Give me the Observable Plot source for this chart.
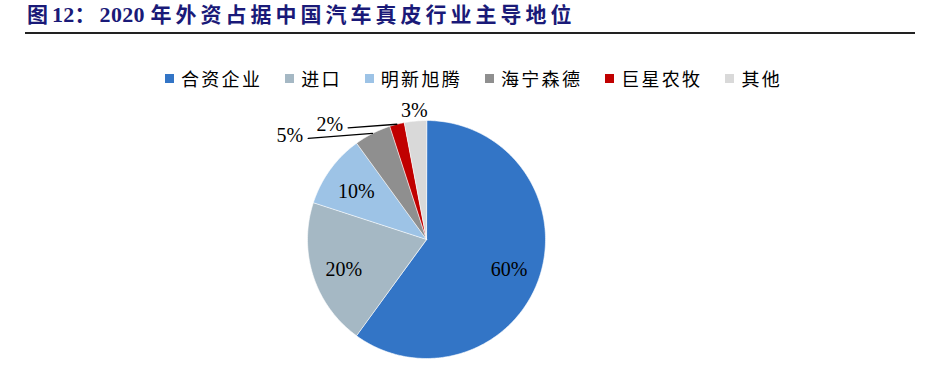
<!DOCTYPE html>
<html>
<head>
<meta charset="utf-8">
<script src="https://cdn.jsdelivr.net/npm/d3@7"></script>
<script src="https://cdn.jsdelivr.net/npm/@observablehq/plot@0.6"></script>
<style>
  html, body { margin: 0; padding: 0; background: #fff; }
  #wrap { position: relative; width: 927px; height: 368px; overflow: hidden; }
  #title { position: absolute; left: 27px; top: 3px; font-family: "Liberation Serif", "Noto Sans CJK SC", serif; font-weight: bold; font-size: 21px; line-height: 24px; letter-spacing: 4px; color: #1a1a78; white-space: nowrap; }
  #title .n { letter-spacing: 0.3px; font-size: 22px; }
  #rule { position: absolute; left: 25px; width: 890px; top: 32px; height: 0; border-top: 2px solid #222; }
  #legend { position: absolute; left: 165px; top: 66px; display: flex; align-items: center; font-family: "Noto Sans CJK SC", sans-serif; font-size: 18px; line-height: 24px; letter-spacing: 2.3px; color: #000; white-space: nowrap; }
  .item { display: flex; align-items: center; margin-right: 23px; }
  .sw { width: 9px; height: 9px; margin-right: 7px; }
  #chart { position: absolute; left: 0; top: 0; }
</style>
</head>
<body>
<div id="wrap">
  <div id="chart"></div>
  <div id="title">图<span class="n">12</span>：<span class="n">2020 </span>年外资占据中国汽车真皮行业主导地位</div>
  <div id="rule"></div>
  <div id="legend"></div>
</div>
<script>
const categories = ["合资企业", "进口", "明新旭腾", "海宁森德", "巨星农牧", "其他"];
const shares = [60, 20, 10, 5, 2, 3];
const labels = ["60%", "20%", "10%", "5%", "2%", "3%"];
const colors = ["#3375c6", "#a5b8c4", "#9dc3e6", "#8f8f8f", "#c00000", "#d9d9d9"];

// legend
const legend = document.getElementById("legend");
categories.forEach((c, i) => {
  const it = document.createElement("div");
  it.className = "item";
  const sw = document.createElement("div");
  sw.className = "sw";
  sw.style.background = colors[i];
  const t = document.createElement("span");
  t.textContent = c;
  it.appendChild(sw); it.appendChild(t);
  legend.appendChild(it);
});

const W = 927, H = 368, R = 119, CX = 426, CY = 239;
const data = categories.map((c, i) => ({name: c, value: shares[i], label: labels[i]}));
const arcs = d3.pie().sort(null).value(d => d.value)(data);

// slice polygons in unit-radius coordinates (angle clockwise from 12 o'clock)
const pts = [];
arcs.forEach(a => {
  const n = Math.max(2, Math.ceil((a.endAngle - a.startAngle) / (Math.PI / 180)));
  pts.push({name: a.data.name, x: 0, y: 0});
  for (let k = 0; k <= n; k++) {
    const t = a.startAngle + (a.endAngle - a.startAngle) * k / n;
    pts.push({name: a.data.name, x: Math.sin(t), y: Math.cos(t)});
  }
});

// labels
const inside = [], outside = [], leaders = [];
const leaderLen = {3: 0.54, 4: 0.41};
arcs.forEach((a, i) => {
  const m = (a.startAngle + a.endAngle) / 2;
  const sx = Math.sin(m), sy = Math.cos(m);
  if (a.data.value >= 10) {
    inside.push({x: sx * 0.73, y: sy * 0.73 - 0.03, label: a.data.label});
  } else if (leaderLen[i] != null) {
    const ex = sx - leaderLen[i], ey = sy - (i === 3 ? 0.042 : 0.03);
    leaders.push({id: i, x: sx, y: sy}, {id: i, x: ex, y: ey});
    outside.push({x: ex, y: ey + 0.025, label: a.data.label, anchor: "end"});
  } else {
    outside.push({x: sx * 1.09, y: sy * 1.09, label: a.data.label, anchor: "middle"});
  }
});

const chart = Plot.plot({
  width: W, height: H,
  margin: 0,
  x: {domain: [-CX / R, (W - CX) / R], axis: null},
  y: {domain: [-(H - CY) / R, CY / R], axis: null},
  color: {domain: categories, range: colors},
  marks: [
    Plot.line(pts, {x: "x", y: "y", z: "name", fill: "name", stroke: "#fff", strokeWidth: 0.6, curve: "linear-closed"}),
    Plot.line(leaders, {x: "x", y: "y", z: "id", stroke: "#000", strokeWidth: 1.3}),
    Plot.text(inside, {x: "x", y: "y", text: "label", fontSize: 20, fontFamily: "Liberation Serif", fill: "#000"}),
    Plot.text(outside.filter(d => d.anchor === "end"), {x: "x", y: "y", text: "label", textAnchor: "end", dx: -5, fontSize: 20, fontFamily: "Liberation Serif", fill: "#000"}),
    Plot.text(outside.filter(d => d.anchor === "middle"), {x: "x", y: "y", text: "label", fontSize: 20, fontFamily: "Liberation Serif", fill: "#000"})
  ]
});
document.getElementById("chart").appendChild(chart);
</script>
</body>
</html>
